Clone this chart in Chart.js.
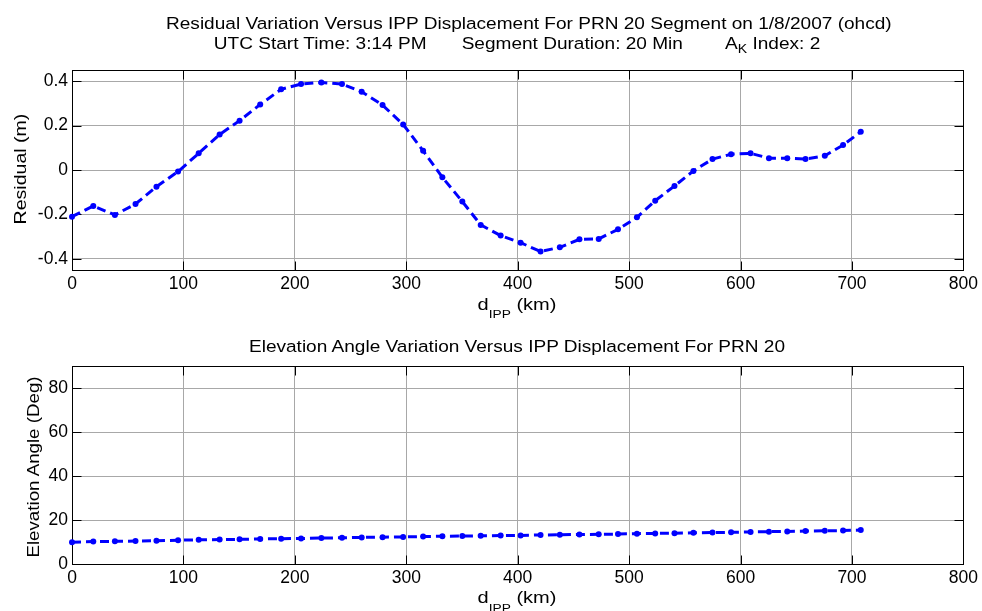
<!DOCTYPE html>
<html>
<head>
<meta charset="utf-8">
<script src="https://cdn.jsdelivr.net/npm/chart.js@4.4.1/dist/chart.umd.min.js"></script>
<style>
  html, body { margin: 0; padding: 0; background: #fff; }
  body { width: 982px; height: 611px; position: relative; overflow: hidden; }
  canvas { position: absolute; left: 0; }
  .t { position: absolute; font-family: 'Liberation Sans', Arial, Helvetica, sans-serif; color: #000;
       white-space: pre; line-height: 1; text-align: center; transform-origin: 50% 50%; }
  .sub { position: relative; }
</style>
</head>
<body>
<canvas id="c1" width="982" height="300" style="top:0px"></canvas>
<canvas id="c2" width="982" height="311" style="top:300px"></canvas>

<div class="t" style="left:217px; width:600px; top:14.5px; font-size:16.3px; transform:scaleX(1.17)">Residual Variation Versus IPP Displacement For PRN 20 Segment on 1/8/2007 (ohcd)</div>
<div class="t" style="left:217px; width:600px; top:34.5px; font-size:16.3px; transform:scaleX(1.17)"><span>UTC Start Time: 3:14 PM</span><span style="margin-left:30px">Segment Duration: 20 Min</span><span style="margin-left:36px">A<span class="sub" style="font-size:12px; top:4px">K</span> Index: 2</span></div>

<div class="t" style="left:217px; width:600px; top:338px; font-size:16.3px; transform:scaleX(1.17)">Elevation Angle Variation Versus IPP Displacement For PRN 20</div>

<div class="t" style="left:417px; width:200px; top:296.5px; font-size:16px; transform:scaleX(1.25)">d<span class="sub" style="font-size:11px; top:8.5px">IPP</span> (km)</div>
<div class="t" style="left:417px; width:200px; top:590px; font-size:16px; transform:scaleX(1.25)">d<span class="sub" style="font-size:11px; top:8.5px">IPP</span> (km)</div>

<div class="t" style="left:20px; top:168.5px; font-size:16.3px; transform:translate(-50%,-50%) rotate(-90deg) scaleX(1.2)">Residual (m)</div>
<div class="t" style="left:33px; top:467px; font-size:16.3px; transform:translate(-50%,-50%) rotate(-90deg) scaleX(1.15)">Elevation Angle (Deg)</div>

<script>
// ---- data ----
const dIPP = [0, 19.1, 38.5, 57, 75.8, 95.2, 113.7, 132.5, 150.4, 168.9, 187.7, 205.6, 223.8, 242.3, 260, 278.7,
  297.2, 315.1, 332.4, 350.3, 366.8, 384.7, 402.6, 420.5, 437.8, 455.4, 472.7, 490, 507, 523.4, 540.7, 557.7,
  574.8, 591.5, 609, 625.5, 641.9, 658.3, 675.6, 692, 707.9];
const residual = [-0.210, -0.162, -0.202, -0.153, -0.075, -0.007, 0.075, 0.160, 0.222, 0.295, 0.363, 0.387, 0.394,
  0.387, 0.352, 0.292, 0.205, 0.087, -0.033, -0.142, -0.247, -0.295, -0.327, -0.367, -0.348, -0.312, -0.310,
  -0.267, -0.213, -0.138, -0.072, -0.004, 0.049, 0.071, 0.075, 0.053, 0.053, 0.049, 0.064, 0.112, 0.172];
const elevation = [9.9, 10.2, 10.3, 10.4, 10.6, 10.8, 11.0, 11.1, 11.2, 11.4, 11.5, 11.6, 11.8, 11.9, 12.1, 12.2,
  12.3, 12.5, 12.6, 12.7, 12.8, 12.9, 13.0, 13.2, 13.3, 13.4, 13.5, 13.6, 13.8, 13.9, 14.0, 14.2,
  14.3, 14.4, 14.6, 14.7, 14.8, 15.0, 15.1, 15.2, 15.4];
const xTicks = [0, 100, 200, 300, 400, 500, 600, 700, 800];
const xTickLabels = ['0', '100', '200', '300', '400', '500', '600', '700', '800'];
const resTicks = [-0.4, -0.2, 0, 0.2, 0.4];
const resTickLabels = ['-0.4', '-0.2', '0', '0.2', '0.4'];
const elevTicks = [0, 20, 40, 60, 80];
const elevTickLabels = ['0', '20', '40', '60', '80'];

const FONT = "'Liberation Sans', Arial, Helvetica, sans-serif";

const framePlugin = {
  id: 'frame',
  beforeDatasetsDraw(chart) {
    const ctx = chart.ctx, a = chart.chartArea;
    const L = Math.round(a.left) + 0.5, R = Math.round(a.right) + 0.5;
    const T = Math.round(a.top) + 0.5, B = Math.round(a.bottom) + 0.5;
    const len = 9;
    ctx.save();
    ctx.strokeStyle = '#000';
    ctx.lineWidth = 1;
    ctx.beginPath();
    chart.scales.x.ticks.forEach(t => {
      const px = Math.round(chart.scales.x.getPixelForValue(t.value)) + 0.5;
      ctx.moveTo(px, B); ctx.lineTo(px, B - len);
      ctx.moveTo(px, T); ctx.lineTo(px, T + len);
    });
    chart.scales.y.ticks.forEach(t => {
      const py = Math.round(chart.scales.y.getPixelForValue(t.value)) + 0.5;
      ctx.moveTo(L, py); ctx.lineTo(L + len, py);
      ctx.moveTo(R, py); ctx.lineTo(R - len, py);
    });
    ctx.stroke();
    ctx.strokeRect(L, T, R - L, B - T);
    ctx.restore();
  }
};

function makeChart(id, yVals, yMin, yMax, yTicks, yLabels, padTop, xHeight) {
  return new Chart(document.getElementById(id), {
    type: 'line',
    data: {
      datasets: [{
        data: dIPP.map((x, i) => ({ x: x, y: yVals[i] })),
        borderColor: '#0000ff',
        backgroundColor: '#0000ff',
        borderWidth: 3,
        borderDash: [9, 5],
        pointRadius: 3,
        pointBorderWidth: 0,
        pointBackgroundColor: '#0000ff',
        tension: 0,
        clip: false
      }]
    },
    options: {
      responsive: false,
      animation: false,
      devicePixelRatio: 1,
      layout: { padding: { top: padTop, right: 16, left: 0, bottom: 0 } },
      plugins: { legend: { display: false }, title: { display: false }, tooltip: { enabled: false } },
      scales: {
        x: {
          type: 'linear', min: 0, max: 800,
          afterBuildTicks: s => { s.ticks = xTicks.map(v => ({ value: v })); },
          afterFit: s => { s.height = xHeight; },
          ticks: {
            autoSkip: false, maxRotation: 0, padding: 4, color: '#000',
            font: { family: FONT, size: 17.5 },
            callback: (v, i) => xTickLabels[i]
          },
          grid: { color: '#a8a8a8', lineWidth: 1, drawTicks: false },
          border: { display: false }
        },
        y: {
          type: 'linear', min: yMin, max: yMax,
          afterBuildTicks: s => { s.ticks = yTicks.map(v => ({ value: v })); },
          afterFit: s => { s.width = 72; },
          ticks: {
            autoSkip: false, padding: 4, color: '#000',
            font: { family: FONT, size: 17.5 },
            callback: (v, i) => yLabels[i]
          },
          grid: { color: '#a8a8a8', lineWidth: 1, drawTicks: false },
          border: { display: false }
        }
      }
    },
    plugins: [framePlugin]
  });
}

makeChart('c1', residual, -0.45, 0.45, resTicks, resTickLabels, 70, 30);
makeChart('c2', elevation, 0, 90, elevTicks, elevTickLabels, 66, 47);
</script>
</body>
</html>
